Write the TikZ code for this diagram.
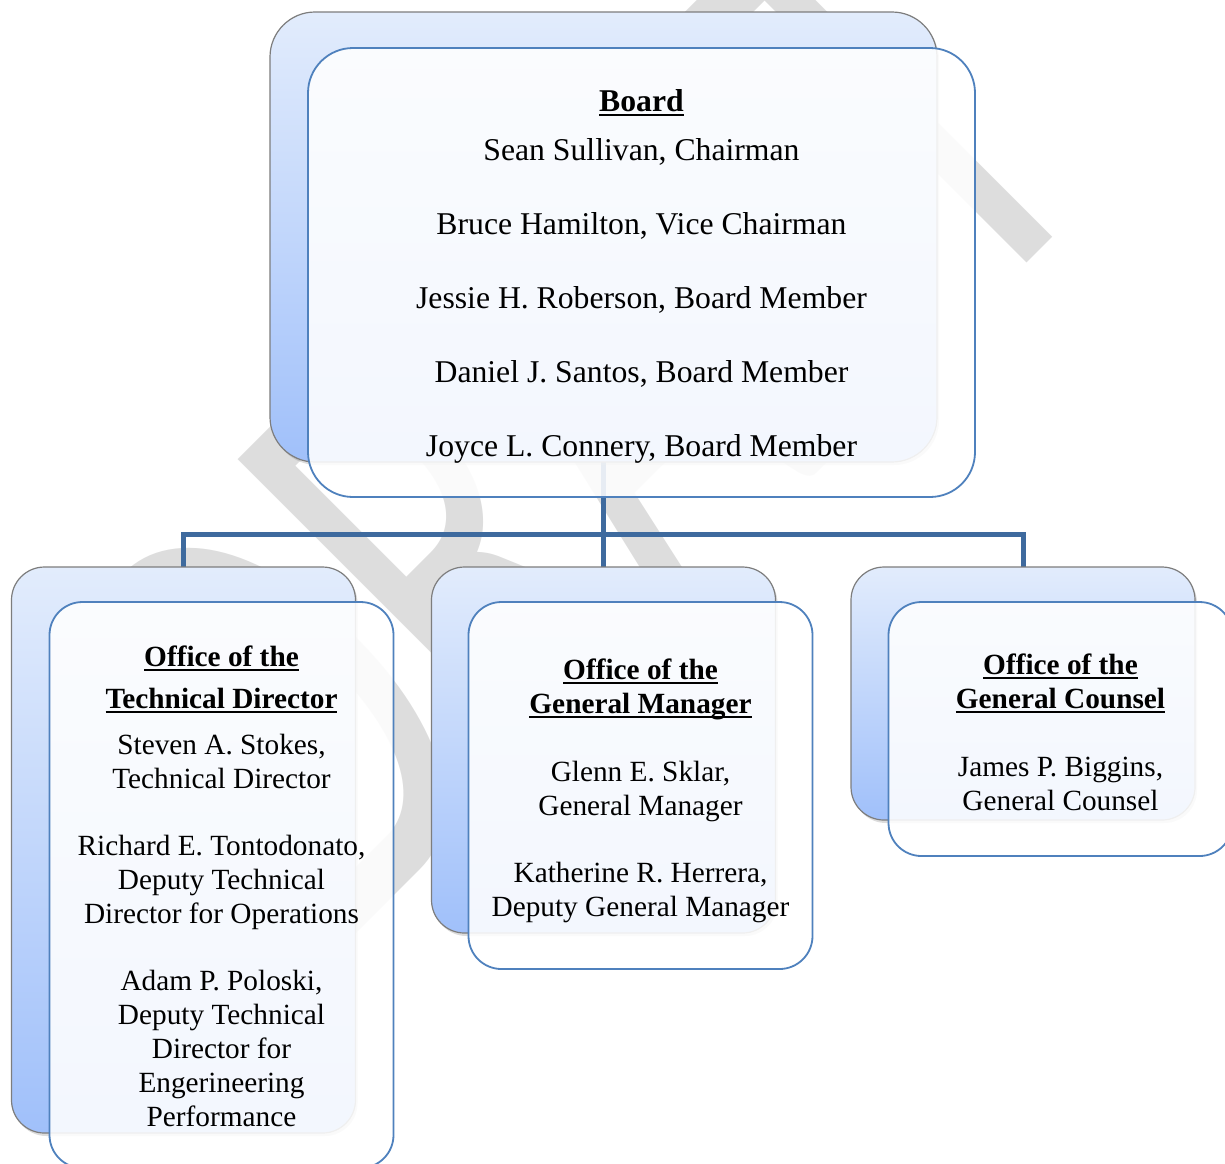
\documentclass[tikz,border=0pt]{standalone}
\usepackage{fontspec}
\setmainfont{Liberation Serif}
\newfontfamily\wmfont{Carlito}
\usetikzlibrary{shadows}
\definecolor{linkblue}{RGB}{62,106,158}
\definecolor{frontedge}{RGB}{79,129,189}
\definecolor{backedge}{RGB}{125,125,125}
\definecolor{gradtop}{RGB}{226,236,252}
\definecolor{gradbot}{RGB}{160,192,250}
\definecolor{wmgray}{RGB}{221,221,221}
\newcommand{\ulx}[2][2.3pt]{\begingroup\setbox0\hbox{#2}\rlap{\rule[-#1]{\wd0}{1.15pt}}\box0\endgroup}
\pgfdeclarelayer{wmlayer}
\pgfdeclarelayer{linklayer}
\pgfsetlayers{wmlayer,linklayer,main}
\tikzset{
  backbox/.style={draw=backedge, line width=0.6pt, top color=gradtop, bottom color=gradbot,
    drop shadow={opacity=0.28, shadow xshift=1pt, shadow yshift=-1.5pt},
    inner sep=0pt, outer sep=0pt, minimum width=172pt},
  frontbox/.style={draw=frontedge, line width=0.9pt, fill=white, fill opacity=0.88,
    inner sep=0pt, outer sep=0pt, minimum width=172pt},
  bigr/.style={rounded corners=22.5pt},
  smallr/.style={rounded corners=16.5pt},
  boardtext/.style={align=center, inner sep=0pt, anchor=north,
    font=\fontsize{15.85}{24.5}\selectfont},
  unittext/.style={align=center, inner sep=0pt, anchor=north,
    font=\fontsize{14.65}{17}\selectfont},
  link/.style={draw=linkblue, line width=2.5pt},
  watermark/.style={text=wmgray, font=\wmfont\fontsize{204}{204}\selectfont,
    rotate=45, yscale=1.6, anchor=base west, inner sep=0pt}
}
\begin{document}
\begin{tikzpicture}[x=0.5pt, y=-0.5pt]
\useasboundingbox (0,0) rectangle (1225,1163);

% watermark
\begin{pgfonlayer}{wmlayer}
\node[watermark] (wm) at (336,954) {DRAFT};
\end{pgfonlayer}

% back boxes
\node[backbox, bigr, minimum width=333.5pt, minimum height=225pt] (bb) at (603.5,237) {};
\node[backbox, smallr, minimum height=283pt] (lb) at (183.5,850) {};
\node[backbox, smallr, minimum height=183pt] (mb) at (603.5,750) {};
\node[backbox, smallr, minimum height=126.5pt] (rb) at (1023,693.5) {};

% front boxes
\node[frontbox, bigr, minimum width=333.5pt, minimum height=224.5pt] (bf) at (641.5,272.5) {};
\node[frontbox, smallr, minimum height=283pt] (lf) at (221.5,885) {};
\node[frontbox, smallr, minimum height=183.5pt] (mf) at (640.5,785.5) {};
\node[frontbox, smallr, minimum height=127pt] (rf) at (1060.5,729) {};

% texts
\node[boardtext] (bt) at (641.5,87) {\rule{0pt}{12pt}\ulx[2.5pt]{\textbf{Board}}\\
Sean Sullivan, Chairman\\[12.5pt]
Bruce Hamilton, Vice Chairman\\[12.5pt]
Jessie H. Roberson, Board Member\\[12.5pt]
Daniel J. Santos, Board Member\\[12.5pt]
Joyce L. Connery, Board Member};

\node[unittext] (lt) at (221.5,644) {\rule{0pt}{11pt}\ulx{\textbf{Office of the}}\\[4pt]
\ulx{\textbf{Technical Director}}\\[6pt]
Steven A. Stokes,\\
Technical Director\\[16.5pt]
Richard E. Tontodonato,\\
Deputy Technical\\
Director for Operations\\[16.5pt]
Adam P. Poloski,\\
Deputy Technical\\
Director for\\
Engerineering\\
Performance};

\node[unittext] (mt) at (640.5,657) {\rule{0pt}{11pt}\ulx{\textbf{Office of the}}\\
\ulx{\textbf{General Manager}}\\[17pt]
Glenn E. Sklar,\\
General Manager\\[16.5pt]
Katherine R. Herrera,\\
Deputy General Manager};

\node[unittext] (rt) at (1060.5,652) {\rule{0pt}{11pt}\ulx{\textbf{Office of the}}\\
\ulx{\textbf{General Counsel}}\\[17pt]
James P. Biggins,\\
General Counsel};

% connectors
\begin{pgfonlayer}{linklayer}
\coordinate (j) at (603.5,534);
\draw[link] (bb.south) -- (j);
\draw[link] (lb.north) |- (j) -| (rb.north);
\draw[link] (j) -- (mb.north);
\end{pgfonlayer}
\end{tikzpicture}
\end{document}
